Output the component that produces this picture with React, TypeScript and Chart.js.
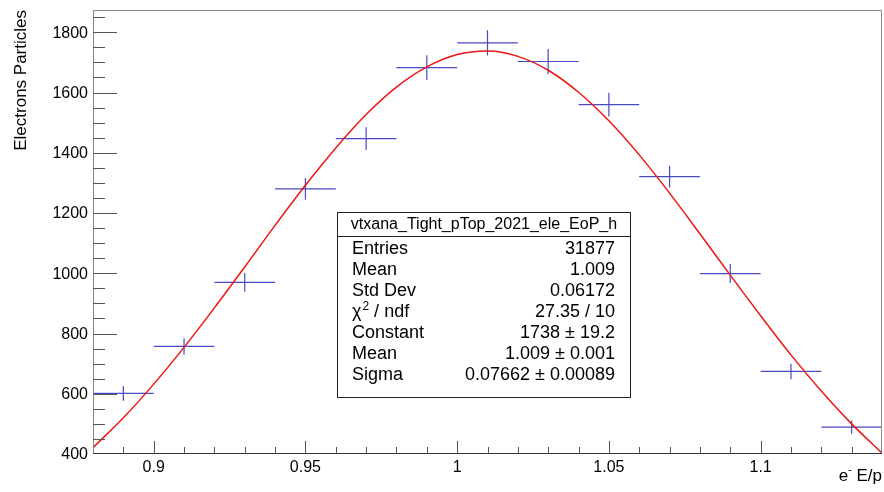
import React, { useEffect, useRef } from "react";
import { Chart, registerables } from "chart.js";

Chart.register(...registerables);

// Histogram bins (e- E/p)
const binCenters = [0.89, 0.91, 0.93, 0.95, 0.97, 0.99, 1.01, 1.03, 1.05, 1.07, 1.09, 1.11, 1.13];
const binHalfWidth = 0.01;
const counts = [601, 757, 970, 1280, 1447, 1683, 1765, 1703, 1560, 1321, 999, 674, 489];
const countErrors = [24.5, 27.5, 31, 36, 38, 41, 42, 41.3, 39.5, 36.3, 31.6, 26, 22.1];

// Gaussian fit curve values
const fitX = [0.88, 0.89, 0.9, 0.91, 0.92, 0.93, 0.94, 0.95, 0.96, 0.97, 0.98, 0.99, 1.0, 1.01, 1.02, 1.03, 1.04, 1.05, 1.06, 1.07, 1.08, 1.09, 1.1, 1.11, 1.12, 1.13, 1.14];
const fitY = [421, 520, 632, 754, 885, 1021, 1159, 1292, 1416, 1527, 1618, 1685, 1726, 1738, 1720, 1674, 1601, 1506, 1393, 1266, 1131, 994, 859, 729, 609, 500, 403];

// Axes
const xMin = 0.88;
const xMax = 1.14;
const yMin = 400;
const yMax = 1874;
const xMajorTicks = [0.9, 0.95, 1.0, 1.05, 1.1];
const xMajorLabels = ["0.9", "0.95", "1", "1.05", "1.1"];
const xMinorStep = 0.01;
const yMajorTicks = [400, 600, 800, 1000, 1200, 1400, 1600, 1800];
const yMinorStep = 50;

// Stats box
const statsTitle = "vtxana_Tight_pTop_2021_ele_EoP_h";
const statsLabels = ["Entries", "Mean", "Std Dev", "CHI2", "Constant", "Mean", "Sigma"];
const statsValues = ["31877", "1.009", "0.06172", "27.35 / 10", "1738 \u00b1 19.2", "1.009 \u00b1 0.001", "0.07662 \u00b1 0.00089"];

const FONT = "'Liberation Sans', Arial, Helvetica, sans-serif";

const rootPlugin = {
  id: "rootStyle",
  beforeDatasetsDraw(chart: any) {
    const ctx = chart.ctx;
    const xs = chart.scales.x;
    const ys = chart.scales.y;
    const area = chart.chartArea;
    ctx.save();
    ctx.beginPath();
    ctx.rect(area.left, area.top, area.right - area.left, area.bottom - area.top);
    ctx.clip();
    ctx.strokeStyle = "#4a4ac2";
    ctx.lineWidth = 1.2;
    for (let i = 0; i < binCenters.length; i++) {
      const cx = xs.getPixelForValue(binCenters[i]);
      const cy = ys.getPixelForValue(counts[i]);
      const x0 = xs.getPixelForValue(binCenters[i] - binHalfWidth);
      const x1 = xs.getPixelForValue(binCenters[i] + binHalfWidth);
      const yTop = ys.getPixelForValue(counts[i] + countErrors[i]);
      const yBot = ys.getPixelForValue(counts[i] - countErrors[i]);
      ctx.beginPath();
      ctx.moveTo(x0, cy);
      ctx.lineTo(x1, cy);
      ctx.moveTo(cx, yTop);
      ctx.lineTo(cx, yBot);
      ctx.stroke();
    }
    ctx.restore();
  },
  afterDraw(chart: any) {
    const ctx = chart.ctx;
    const xs = chart.scales.x;
    const ys = chart.scales.y;
    const a = chart.chartArea;
    ctx.save();

    // frame
    ctx.lineWidth = 1;
    ctx.strokeStyle = "#8a8a8a";
    ctx.beginPath();
    ctx.moveTo(a.left + 0.5, a.bottom);
    ctx.lineTo(a.left + 0.5, a.top + 0.5);
    ctx.lineTo(a.right - 0.5, a.top + 0.5);
    ctx.lineTo(a.right - 0.5, a.bottom);
    ctx.stroke();
    ctx.strokeStyle = "#333";
    ctx.beginPath();
    ctx.moveTo(a.left, a.bottom - 0.5);
    ctx.lineTo(a.right, a.bottom - 0.5);
    ctx.stroke();

    // y ticks
    ctx.strokeStyle = "#555";
    ctx.beginPath();
    for (let v = yMin + yMinorStep; v < yMax; v += yMinorStep) {
      const py = Math.round(ys.getPixelForValue(v)) + 0.5;
      const major = yMajorTicks.indexOf(v) >= 0;
      ctx.moveTo(a.left, py);
      ctx.lineTo(a.left + (major ? 24 : 12), py);
    }
    ctx.stroke();

    // x ticks
    ctx.beginPath();
    const nMinor = Math.round((xMax - xMin) / xMinorStep);
    for (let i = 1; i < nMinor; i++) {
      const v = xMin + i * xMinorStep;
      const px = Math.round(xs.getPixelForValue(v)) + 0.5;
      const major = xMajorTicks.some((t) => Math.abs(t - v) < 1e-6);
      ctx.moveTo(px, a.bottom);
      ctx.lineTo(px, a.bottom - (major ? 13 : 7));
    }
    ctx.stroke();

    // tick labels
    ctx.fillStyle = "#000";
    ctx.font = `16px ${FONT}`;
    ctx.textAlign = "right";
    ctx.textBaseline = "middle";
    for (const v of yMajorTicks) {
      ctx.fillText(String(v), a.left - 5, ys.getPixelForValue(v) + 1);
    }
    ctx.textAlign = "center";
    ctx.textBaseline = "top";
    xMajorTicks.forEach((v, i) => {
      ctx.fillText(xMajorLabels[i], xs.getPixelForValue(v), a.bottom + 6);
    });

    // y title
    ctx.save();
    ctx.font = `17px ${FONT}`;
    ctx.translate(26, a.top);
    ctx.rotate(-Math.PI / 2);
    ctx.textAlign = "right";
    ctx.textBaseline = "alphabetic";
    ctx.fillText("Electrons Particles", 0, 0);
    ctx.restore();

    // x title: e^- E/p, right aligned
    ctx.font = `17px ${FONT}`;
    ctx.textBaseline = "alphabetic";
    ctx.textAlign = "left";
    const mainRest = " E/p";
    const wE = ctx.measureText("e").width;
    const wRest = ctx.measureText(mainRest).width;
    ctx.font = `11px ${FONT}`;
    const wSup = ctx.measureText("-").width;
    const xEnd = a.right;
    const baseY = 481;
    const xStart = xEnd - wE - wSup - wRest;
    ctx.font = `17px ${FONT}`;
    ctx.fillText("e", xStart, baseY);
    ctx.font = `11px ${FONT}`;
    ctx.fillText("-", xStart + wE, baseY - 8);
    ctx.font = `17px ${FONT}`;
    ctx.fillText(mainRest, xStart + wE + wSup, baseY);

    // stats box
    const bx0 = 337, by0 = 212, bx1 = 631, by1 = 398, sep = 236;
    ctx.fillStyle = "#fff";
    ctx.fillRect(bx0, by0, bx1 - bx0, by1 - by0);
    ctx.strokeStyle = "#222";
    ctx.lineWidth = 1;
    ctx.strokeRect(bx0 + 0.5, by0 + 0.5, bx1 - bx0 - 1, by1 - by0 - 1);
    ctx.beginPath();
    ctx.moveTo(bx0, sep + 0.5);
    ctx.lineTo(bx1, sep + 0.5);
    ctx.stroke();
    ctx.fillStyle = "#000";
    ctx.font = `16px ${FONT}`;
    ctx.textAlign = "center";
    ctx.textBaseline = "alphabetic";
    ctx.fillText(statsTitle, (bx0 + bx1) / 2, 229);
    ctx.font = `18px ${FONT}`;
    for (let i = 0; i < statsLabels.length; i++) {
      const by = 253.5 + i * 21.1;
      ctx.textAlign = "left";
      if (statsLabels[i] === "CHI2") {
        ctx.font = `18px ${FONT}`;
        const chi = "\u03c7";
        ctx.fillText(chi, 352, by);
        const wc = ctx.measureText(chi).width;
        ctx.font = `12px ${FONT}`;
        ctx.fillText("2", 352 + wc + 1, by - 7);
        const w2 = ctx.measureText("2").width;
        ctx.font = `18px ${FONT}`;
        ctx.fillText(" / ndf", 352 + wc + 1 + w2, by);
      } else {
        ctx.fillText(statsLabels[i], 352, by);
      }
      ctx.textAlign = "right";
      ctx.fillText(statsValues[i], 615, by);
    }
    ctx.restore();
  },
};

export default function App() {
  const ref = useRef<HTMLCanvasElement | null>(null);
  useEffect(() => {
    document.body.style.margin = "0";
    const canvas = ref.current;
    if (!canvas) return;
    const chart = new Chart(canvas, {
      type: "line",
      data: {
        datasets: [
          {
            label: "fit",
            data: fitX.map((x, i) => ({ x, y: fitY[i] })),
            borderColor: "#ee1515",
            borderWidth: 1.5,
            pointRadius: 0,
            tension: 0.4,
            cubicInterpolationMode: "monotone",
            fill: false,
          },
        ],
      },
      options: {
        animation: false,
        responsive: false,
        devicePixelRatio: 1,
        layout: { padding: { left: 93, right: 2, top: 10, bottom: 38 } },
        plugins: { legend: { display: false }, tooltip: { enabled: false } },
        scales: {
          x: { type: "linear", min: xMin, max: xMax, display: false },
          y: { type: "linear", min: yMin, max: yMax, display: false },
        },
      },
      plugins: [rootPlugin],
    } as any);
    return () => chart.destroy();
  }, []);
  return (
    <div style={{ width: 884, height: 492, background: "#fff" }}>
      <canvas ref={ref} width={884} height={492} style={{ display: "block" }} />
    </div>
  );
}
